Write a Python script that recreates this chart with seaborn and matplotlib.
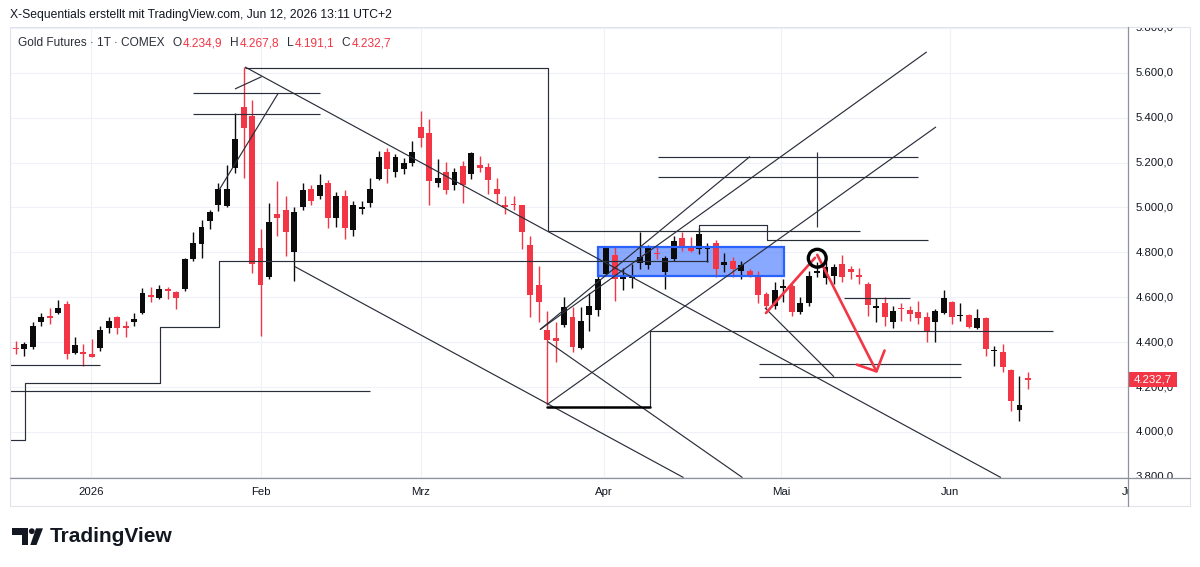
import numpy as np
import pandas as pd
import matplotlib
matplotlib.use("Agg")
import matplotlib.pyplot as plt
import matplotlib.patches as mpatches
import seaborn as sns

# daily candles (Gold Futures, COMEX), first one is cut by the left edge
opens = [4337, 4375, 4369, 4377, 4488, 4517, 4528, 4569, 4354, 4357,
         4346, 4372, 4461, 4510, 4472, 4490, 4532, 4610, 4597, 4639,
         4624, 4636, 4769, 4836, 4942, 5013, 5006, 5176, 5448, 5409,
         4818, 4692, 4969, 4987, 4800, 5004, 5084, 5049, 5107, 4951,
         5049, 4898, 4993, 5018, 5129, 5249, 5160, 5173, 5200, 5360,
         5333, 5111, 5156, 5098, 5187, 5151, 5191, 5182, 5084, 5009,
         5013, 5009, 4831, 4656, 4453, 4418, 4476, 4511, 4373, 4520,
         4542, 4702, 4787, 4680, 4684, 4751, 4742, 4796, 4711, 4769,
         4862, 4818, 4813, 4813, 4840, 4742, 4760, 4716, 4716, 4698,
         4613, 4560, 4640, 4649, 4533, 4573, 4707, 4684, 4693, 4747,
         4724, 4698, 4658, 4551, 4573, 4489, 4551, 4542, 4533, 4511,
         4489, 4529, 4578, 4516, 4520, 4462, 4507, 4360, 4356, 4276,
         4098, 4234.9]
highs = [4378, 4406, 4399, 4488, 4532, 4554, 4588, 4584, 4424, 4391,
         4416, 4472, 4510, 4517, 4495, 4532, 4643, 4646, 4653, 4646,
         4628, 4777, 4890, 4944, 4991, 5110, 5191, 5421, 5628, 5480,
         4905, 5021, 5117, 5049, 5000, 5111, 5102, 5147, 5124, 5071,
         5076, 5031, 5027, 5133, 5253, 5267, 5240, 5222, 5298, 5431,
         5396, 5218, 5204, 5178, 5209, 5249, 5231, 5200, 5133, 5049,
         5049, 5013, 4871, 4738, 4538, 4489, 4600, 4556, 4556, 4618,
         4702, 4822, 4827, 4729, 4747, 4889, 4831, 4822, 4782, 4871,
         4893, 4867, 4907, 4844, 4853, 4796, 4778, 4760, 4724, 4716,
         4622, 4667, 4680, 4658, 4600, 4716, 4756, 4760, 4747, 4787,
         4738, 4729, 4667, 4596, 4600, 4560, 4573, 4560, 4582, 4533,
         4547, 4631, 4582, 4573, 4525, 4547, 4511, 4382, 4391, 4280,
         4249, 4267.8]
lows = [4330, 4347, 4339, 4369, 4472, 4480, 4525, 4324, 4347, 4295,
        4332, 4361, 4443, 4436, 4421, 4472, 4525, 4579, 4594, 4591,
        4547, 4628, 4761, 4777, 4905, 4984, 5000, 5154, 5132, 4710,
        4428, 4680, 4872, 4782, 4671, 4991, 5013, 5040, 4907, 4911,
        4858, 4871, 4973, 5004, 5124, 5111, 5138, 5147, 5187, 5271,
        5009, 5093, 5062, 5076, 5022, 5129, 5156, 5058, 5022, 4973,
        4991, 4813, 4511, 4489, 4122, 4311, 4467, 4356, 4369, 4449,
        4516, 4693, 4582, 4631, 4640, 4724, 4724, 4769, 4636, 4760,
        4804, 4800, 4791, 4756, 4689, 4711, 4689, 4680, 4689, 4573,
        4547, 4547, 4578, 4516, 4525, 4560, 4689, 4658, 4658, 4667,
        4680, 4658, 4516, 4489, 4471, 4462, 4493, 4493, 4480, 4400,
        4400, 4525, 4480, 4493, 4462, 4458, 4338, 4294, 4267, 4093,
        4049, 4191.1]
closes = [4369, 4369, 4391, 4472, 4510, 4507, 4554, 4347, 4387, 4346,
          4335, 4455, 4495, 4465, 4465, 4505, 4617, 4603, 4636, 4627,
          4597, 4769, 4840, 4914, 4979, 5083, 5083, 5305, 5354, 4747,
          4653, 4935, 4954, 4889, 4978, 5080, 5031, 5098, 4951, 5049,
          4907, 5009, 5000, 5084, 5227, 5173, 5227, 5196, 5249, 5311,
          5120, 5133, 5076, 5160, 5098, 5244, 5178, 5124, 5062, 5004,
          5009, 4893, 4609, 4578, 4409, 4405, 4556, 4378, 4493, 4560,
          4680, 4818, 4680, 4689, 4689, 4778, 4818, 4791, 4773, 4849,
          4822, 4804, 4880, 4827, 4724, 4756, 4724, 4742, 4693, 4609,
          4560, 4631, 4649, 4533, 4573, 4693, 4716, 4733, 4733, 4689,
          4711, 4689, 4564, 4560, 4511, 4538, 4547, 4525, 4507, 4449,
          4538, 4596, 4511, 4520, 4467, 4507, 4369, 4365, 4289, 4138,
          4120, 4232.7]
first_day = -1

month_pos = [8.9, 29.05, 48.03, 69.73, 90.71, 110.76, 132.0]
month_labels = ["2026", "Feb", "Mrz", "Apr", "Mai", "Jun", "Jul"]
price_levels = list(range(3800, 5801, 200))

# chart drawings as (day, price) anchor points
top_step = [(27.16, 5623), (63.09, 5623), (63.09, 4897), (100.1, 4897)]
trend_down = [(27.16, 5626), (116.8, 3797)]
chan_low = [(33.05, 4737), (79.16, 3797)]
drop_line = [(63.09, 4402), (86.15, 3797)]
base_thick = [(62.97, 4112), (75.13, 4112)]
base_step = [(75.13, 4112), (75.13, 4451), (122.97, 4451)]
fan_c = [(62.97, 4122), (109.1, 5359)]
fan_b = [(62.14, 4456), (108.0, 5693)]
fan_a = [(62.14, 4456), (87.04, 5227)]
target_hi = [(76.09, 5227), (106.96, 5227)]
target_lo = [(76.09, 5138), (106.96, 5138)]
spike = [(94.98, 5249), (94.98, 4911)]
mid_step = [(80.99, 4905), (80.99, 4923), (89.05, 4923), (89.05, 4853), (108.15, 4853)]
pull_line = [(88.82, 4553), (97.0, 4246)]
support_a = [(88.06, 4303), (112.06, 4303)]
support_b = [(88.06, 4245), (112.06, 4245)]
may_level = [(98.14, 4597), (106.0, 4597)]
peak_hi = [(21.02, 5511), (36.05, 5511)]
peak_lo = [(21.02, 5415), (36.05, 5415)]
peak_tick = [(25.97, 5528), (29.14, 5583)]
rally_line = [(24.1, 5079), (31.1, 5509)]
dec_level = [(-0.71, 4300), (9.96, 4300)]
stop_step = [(-0.71, 3966), (1.07, 3966), (1.07, 4220), (17.08, 4220), (17.08, 4467),
             (24.07, 4467), (24.07, 4761), (82.06, 4761)]
jan_level = [(-0.71, 4184), (41.98, 4184)]
thin_lines = [top_step, trend_down, chan_low, drop_line, base_step, fan_c, fan_b, fan_a,
              target_hi, target_lo, spike, mid_step, pull_line, support_a, support_b,
              may_level, peak_hi, peak_lo, peak_tick, rally_line, dec_level, stop_step,
              jan_level]

arrow_up = [(88.94, 4530), (94.75, 4776)]
arrow_down = [(95.02, 4789), (102.04, 4270)]
arrow_head = [(99.7, 4300), (102.04, 4270), (103.0, 4363)]
circle_mark = (95.02, 4774)

box_days = (69.0, 91.07)
box_prices = (4696, 4826)

UP = "#0b0b0b"
DOWN = "#F23645"
TXT = "#131722"

sns.set_theme(style="white")
plt.rcParams["font.family"] = ["Liberation Sans", "DejaVu Sans"]


def de_fmt(v):
    s = f"{v:,.1f}"
    return s.replace(",", "X").replace(".", ",").replace("X", ".")


df = pd.DataFrame({"open": opens, "high": highs, "low": lows, "close": closes})
df["day"] = np.arange(len(df)) + first_day
colors = np.where(df["close"] >= df["open"], UP, DOWN)

fig = plt.figure(figsize=(12, 5.67), dpi=100, facecolor="white")
ax = fig.add_axes([10 / 1200, 89 / 567, 1118 / 1200, 451 / 567])
ax.set_xlim(-0.71, 131.87)
ax.set_ylim(3795, 5804)
for s in ax.spines.values():
    s.set_visible(False)
ax.set_xticks(month_pos[:-1])
ax.set_yticks(price_levels)
ax.tick_params(left=False, bottom=False, labelleft=False, labelbottom=False)
ax.grid(True, color="#eef1f7", lw=0.8, zorder=0)
ax.set_axisbelow(True)

# rectangle drawing (fill under candles, border on top)
ax.add_patch(mpatches.Rectangle((box_days[0], box_prices[0]), box_days[1] - box_days[0],
                                box_prices[1] - box_prices[0], facecolor="#2962FF",
                                alpha=0.55, lw=0, zorder=1))
ax.add_patch(mpatches.Rectangle((box_days[0], box_prices[0]), box_days[1] - box_days[0],
                                box_prices[1] - box_prices[0], fill=False,
                                edgecolor="#2962FF", lw=1.6, zorder=4))

# candles
ax.vlines(df["day"], df["low"], df["high"], colors=colors, lw=1.0, zorder=2)
body = (df["close"] - df["open"]).abs().clip(lower=6)
ax.bar(df["day"], body, bottom=df[["open", "close"]].min(axis=1), width=0.7,
       color=colors, linewidth=0, zorder=3)

for pts in thin_lines:
    xs, ys = zip(*pts)
    ax.plot(xs, ys, color="#2a2e39", lw=0.85, zorder=4, solid_capstyle="butt")
xs, ys = zip(*base_thick)
ax.plot(xs, ys, color="#000000", lw=1.8, zorder=4)

for pts in (arrow_up, arrow_down, arrow_head):
    xs, ys = zip(*pts)
    ax.plot(xs, ys, color=DOWN, lw=1.9, zorder=5, solid_capstyle="round",
            solid_joinstyle="round")
sns.scatterplot(x=[circle_mark[0]], y=[circle_mark[1]], ax=ax, s=165, marker="o",
                facecolor="none", edgecolor="black", linewidth=2.4, zorder=6, legend=False)
ax.set_xlabel("")
ax.set_ylabel("")

# price scale (the 4.200,0 label sits partly under the last-price tag, as in TradingView)
pax = fig.add_axes([1128 / 1200, 89 / 567, 62 / 1200, 451 / 567])
pax.set_ylim(ax.get_ylim())
pax.set_xlim(0, 1)
pax.axis("off")
for lv in price_levels:
    pax.text(8 / 62, lv, de_fmt(lv), ha="left", va="center", fontsize=8.2, color=TXT,
             clip_on=True, zorder=2)
last = closes[-1]
pax.add_patch(mpatches.Rectangle((0, last - 33), 49 / 62, 66, facecolor=DOWN, lw=0,
                                 zorder=5, clip_on=False))
pax.text(24.5 / 62, last, de_fmt(last), ha="center", va="center", fontsize=8.2,
         color="white", zorder=6, clip_on=False)

# time scale
tax = fig.add_axes([10 / 1200, 61 / 567, 1118 / 1200, 28 / 567])
tax.set_xlim(ax.get_xlim())
tax.set_ylim(0, 1)
tax.axis("off")
for pos, lab in zip(month_pos, month_labels):
    tax.text(pos, 0.5, lab, ha="center", va="center", fontsize=8.2, color=TXT, clip_on=True)

# frame, header and logo in pixel coordinates
ov = fig.add_axes([0, 0, 1, 1])
ov.set_xlim(0, 1200)
ov.set_ylim(567, 0)
ov.axis("off")
ov.patch.set_alpha(0)
ov.add_patch(mpatches.Rectangle((10, 27), 1180, 479, fill=False, edgecolor="#e0e3eb", lw=0.8))
ov.plot([1127.7, 1127.7], [27, 506], color="#8f929b", lw=0.9)
ov.plot([10, 1190], [478, 478], color="#8f929b", lw=0.9)

ov.text(10, 15, "X-Sequentials erstellt mit TradingView.com, Jun 12, 2026 13:11 UTC+2",
        ha="left", va="center", fontsize=8.75, color=TXT)

# legend line, laid out piece by piece
renderer = fig.canvas.get_renderer()
cursor = 18
t = ov.text(cursor, 43.5, "Gold Futures · 1T · COMEX", ha="left", va="center",
            fontsize=8.6, color="#2a2e39")
cursor += t.get_window_extent(renderer).width + 8
for letter, val in zip("OHLC", [opens[-1], highs[-1], lows[-1], closes[-1]]):
    t = ov.text(cursor, 43.5, letter, ha="left", va="center", fontsize=8.6, color="#2a2e39")
    cursor += t.get_window_extent(renderer).width + 1.5
    t = ov.text(cursor, 43.5, de_fmt(val), ha="left", va="center", fontsize=8.6, color=DOWN)
    cursor += t.get_window_extent(renderer).width + 7

ov.add_patch(mpatches.Polygon([(11.7, 528.3), (28.3, 528.3), (28.3, 545), (21.7, 545),
                               (21.7, 534.5), (11.7, 534.5)], closed=True, color=TXT, lw=0))
ov.add_patch(mpatches.Circle((31.8, 531.2), 2.9, color=TXT, lw=0))
ov.add_patch(mpatches.Polygon([(36, 528.3), (43, 528.3), (36.5, 545), (30.3, 545)],
                              closed=True, color=TXT, lw=0))
ov.text(49.5, 537, "TradingView", ha="left", va="center", fontsize=15, fontweight="bold",
        color=TXT)

fig.savefig("out.png", dpi=100, facecolor="white")
